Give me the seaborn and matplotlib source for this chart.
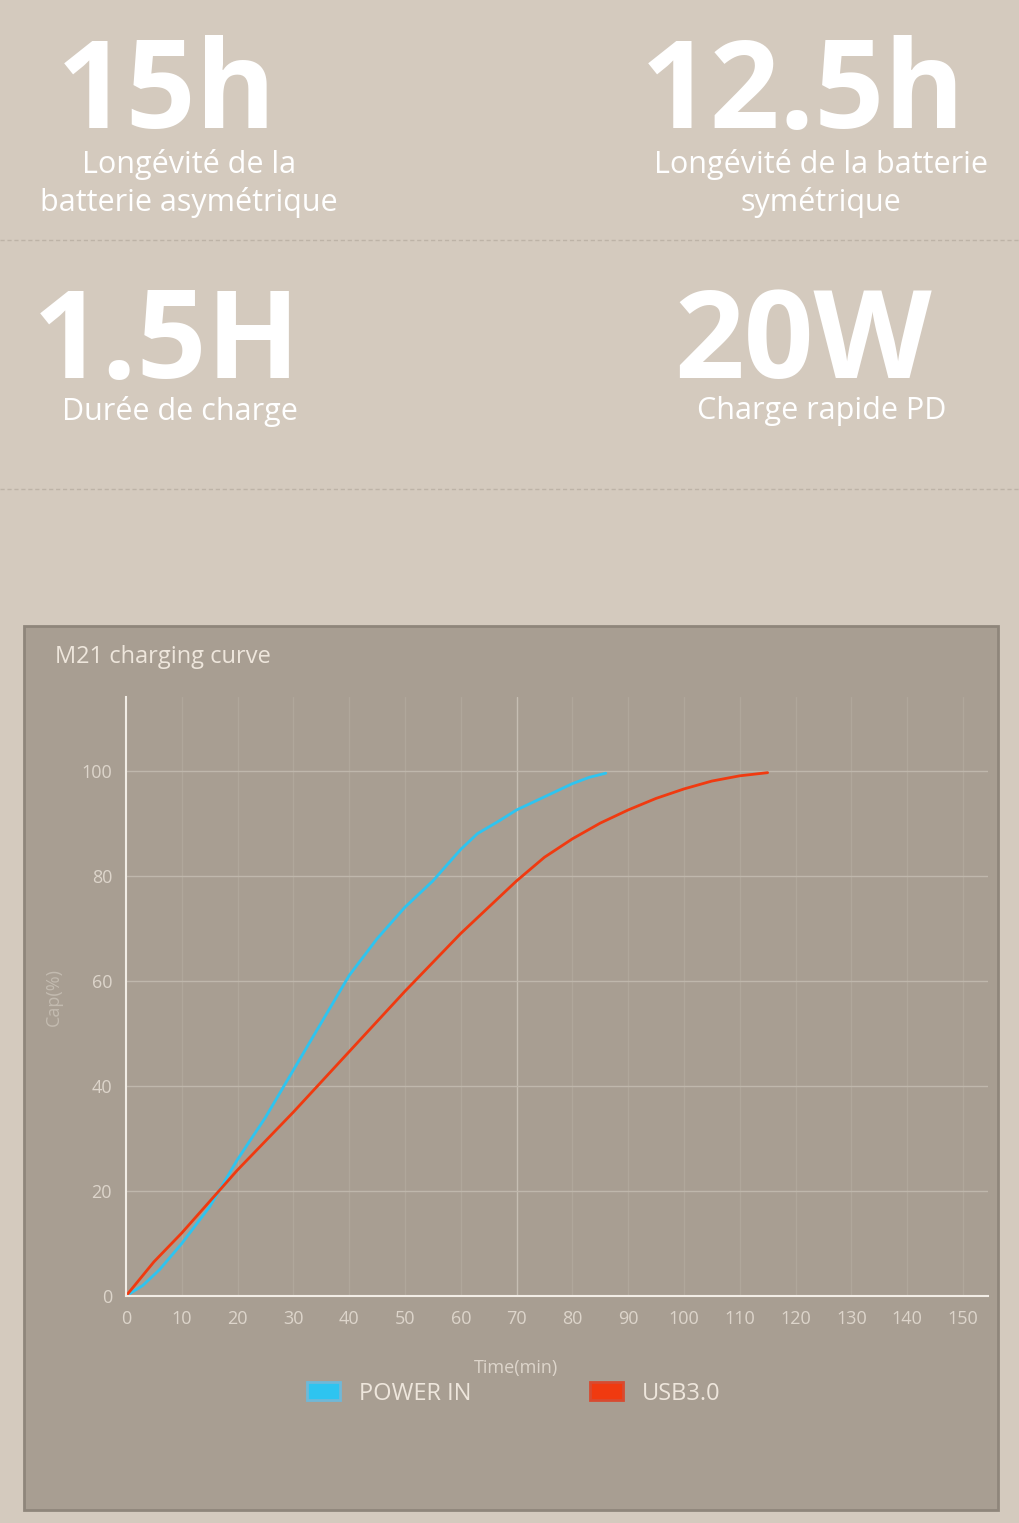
import pandas as pd
import matplotlib
matplotlib.use('Agg')
import matplotlib.pyplot as plt
import seaborn as sns
from matplotlib.patches import Rectangle, Patch
from matplotlib.lines import Line2D

# 충전 곡선 데이터
power_time = [0, 3, 6, 10, 15, 20, 25, 30, 35, 40, 45, 50, 55, 60, 63, 67, 70, 75, 80, 83, 86]
power_cap = [0, 2, 5, 10, 17, 26, 34, 43, 52, 61, 68, 74, 79, 85, 88, 90.5, 92.5, 95, 97.5, 98.7, 99.5]
usb_time = [0, 5, 10, 20, 30, 40, 50, 60, 70, 75, 80, 85, 90, 95, 100, 105, 110, 115]
usb_cap = [0, 6.5, 12, 24, 35, 46.5, 58, 69, 79, 83.5, 87, 90, 92.5, 94.7, 96.5, 98, 99, 99.6]
x_ticks = list(range(0, 151, 10))
y_ticks = [0, 20, 40, 60, 80, 100]

headline = [("15h", "Longévité de la\nbatterie asymétrique", 0.163, 0.185, 0.937, 0.902),
            ("12.5h", "Longévité de la batterie\nsymétrique", 0.787, 0.805, 0.937, 0.902),
            ("1.5H", "Durée de charge", 0.163, 0.176, 0.773, 0.74),
            ("20W", "Charge rapide PD", 0.787, 0.806, 0.773, 0.74)]

df = pd.concat([
    pd.DataFrame({'Time': power_time, 'Cap': power_cap, 'Series': 'POWER IN'}),
    pd.DataFrame({'Time': usb_time, 'Cap': usb_cap, 'Series': 'USB3.0'}),
])

sns.set_style('white')
plt.rcParams['font.family'] = ['Open Sans', 'DejaVu Sans']

bg = '#d4cabe'
panel = '#a89e92'
fig = plt.figure(figsize=(10.2, 15.23), dpi=100, facecolor=bg)

# 상단 수치 텍스트
for big, small, xb, xs, yb, ys in headline:
    fig.text(xb, yb, big, ha='center', va='center', fontsize=88, fontweight='bold', color='white')
    fig.text(xs, ys, small, ha='center', va='top', fontsize=22, color='white', linespacing=1.3)

for yy in [1 - 240 / 1523, 1 - 489 / 1523]:
    fig.add_artist(Line2D([0, 1], [yy, yy], color='#bdb3a7', lw=1, ls=(0, (3, 2))))

# 차트 패널
fig.add_artist(Rectangle((24 / 1020, 1 - 1510 / 1523), 974 / 1020, 884 / 1523,
                         transform=fig.transFigure, facecolor=panel, edgecolor='#8f867b', lw=2, zorder=0))
fig.text(55 / 1020, 1 - 657 / 1523, 'M21 charging curve', fontsize=17, color='#eee6dc', va='center')

ax = fig.add_axes([126 / 1020, 1 - 1296 / 1523, 862 / 1020, 599 / 1523])
ax.set_facecolor(panel)
ax.set_xlim(0, 154.5)
ax.set_ylim(0, 114)
for x in x_ticks[1:]:
    ax.axvline(x, color='#b0a79b' if x != 70 else '#c6beb3', lw=1, zorder=0)
for y in y_ticks[1:]:
    ax.axhline(y, color='#bfb7ac', lw=1, zorder=0)

sns.lineplot(data=df, x='Time', y='Cap', hue='Series', palette={'POWER IN': '#2ec4f0', 'USB3.0': '#f03a10'},
             lw=2, ax=ax, legend=False, sort=False)

ax.set_xticks(x_ticks)
ax.set_yticks(y_ticks)
ax.tick_params(colors='#ddd5cb', labelsize=13, length=0, pad=10)
for s in ['top', 'right']:
    ax.spines[s].set_visible(False)
for s in ['left', 'bottom']:
    ax.spines[s].set_color('#f2ede6')
    ax.spines[s].set_linewidth(1.5)
ax.set_xlabel('Time(min)', color='#ddd5cb', fontsize=13)
ax.xaxis.set_label_coords(0.453, -0.105)
ax.set_ylabel('Cap(%)', color='#c3bbb0', fontsize=13)
ax.yaxis.set_label_coords(-0.073, 0.5)

handles = [Patch(facecolor='#2ec4f0', edgecolor='#6fb8d8', lw=2, label='POWER IN'),
           Patch(facecolor='#f03a10', edgecolor='#d84a30', lw=2, label='USB3.0')]
leg = ax.legend(handles=handles, ncol=2, loc='center', bbox_to_anchor=(0.45, -0.163), frameon=False,
                fontsize=17, columnspacing=5, handlelength=1.4, handleheight=0.8)
for t in leg.get_texts():
    t.set_color('#eee6dc')

fig.savefig('out.png', dpi=100, facecolor=bg)
